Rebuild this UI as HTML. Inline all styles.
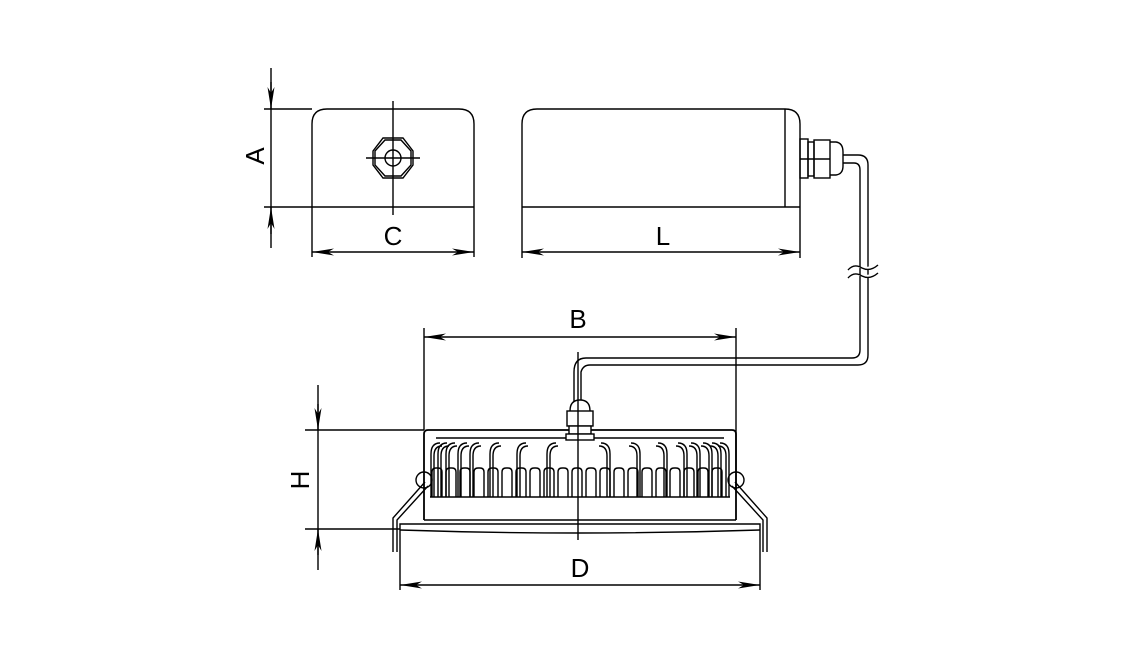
<!DOCTYPE html>
<html><head><meta charset="utf-8"><style>
html,body{margin:0;padding:0;background:#fff;}
svg{display:block}
text{font-family:"Liberation Sans",sans-serif;font-size:26px;fill:#000}
</style></head><body>
<svg width="1133" height="666" viewBox="0 0 1133 666" xmlns="http://www.w3.org/2000/svg">
<defs>
<marker id="ar" viewBox="0 0 22 8" refX="22" refY="4" markerWidth="22" markerHeight="8" markerUnits="userSpaceOnUse" orient="auto-start-reverse"><path d="M0,0.5 L22,4 L0,7.5 L6,4 Z" fill="#000"/></marker>
<path id="sf" d="M0,497 L0,472 Q0,468 4,468 L6,468 Q10,468 10,472 L10,497"/>
<path id="tl" d="M0,497 L0,454 Q0,443 9,443 M3,497 L3,456 Q3,446 11,446"/>
<path id="tr" d="M0,497 L0,454 Q0,443 -9,443 M-3,497 L-3,456 Q-3,446 -11,446"/>
</defs>
<g fill="none" stroke="#000" stroke-width="1.4">
<!-- Left box -->
<path d="M312,208 L312,124 Q312,109 327,109 L459,109 Q474,109 474,124 L474,208"/>
<line x1="264" y1="109" x2="312" y2="109"/>
<line x1="264" y1="207" x2="474" y2="207"/>
<line x1="271" y1="68" x2="271" y2="248"/>
<line x1="271" y1="82" x2="271" y2="109" marker-end="url(#ar)"/>
<line x1="271" y1="234" x2="271" y2="207" marker-end="url(#ar)"/>
<line x1="393" y1="101" x2="393" y2="215"/>
<line x1="366" y1="158" x2="420" y2="158"/>
<polygon points="373,151 383,138 403,138 413,151 413,165 403,178 383,178 373,165"/>
<polygon points="375,151 385,140 401,140 411,151 411,165 401,176 385,176 375,165"/>
<circle cx="393" cy="158" r="8"/>
<line x1="312" y1="208" x2="312" y2="257"/>
<line x1="474" y1="208" x2="474" y2="257"/>
<line x1="312" y1="252" x2="474" y2="252" marker-start="url(#ar)" marker-end="url(#ar)"/>
<!-- Right box -->
<path d="M522,258 L522,124 Q522,109 537,109 L785,109 Q800,109 800,124 L800,258"/>
<line x1="785" y1="109" x2="785" y2="207"/>
<line x1="522" y1="207" x2="800" y2="207"/>
<line x1="522" y1="252" x2="800" y2="252" marker-start="url(#ar)" marker-end="url(#ar)"/>
<!-- gland -->
<rect x="800" y="139" width="8" height="39"/>
<rect x="808" y="142" width="6" height="34"/>
<rect x="814" y="140" width="16" height="38"/>
<line x1="800" y1="159" x2="830" y2="159"/>
<path d="M830,142 L836,142 Q843,143 843,152 L843,166 Q843,174 836,175 L830,175"/>
<!-- cable -->
<path d="M843,155 L858,155 Q868,155 868,165 L868,355 Q868,365 858,365 L590,365 Q583,365 581,372 L581,402"/>
<path d="M843,163 L854,163 Q860,163 860,170 L860,350 Q860,358 852,358 L586,358 Q574,358 574,372 L574,402"/>
<path d="M848,270 Q854,263 862,268 Q870,272 878,265" fill="#fff"/>
<path d="M848,278 Q854,271 862,276 Q870,280 878,273" fill="#fff"/>
<!-- B -->
<line x1="424" y1="328" x2="424" y2="430"/>
<line x1="736" y1="328" x2="736" y2="490"/>
<line x1="424" y1="337" x2="736" y2="337" marker-start="url(#ar)" marker-end="url(#ar)"/>
<!-- lamp -->
<path d="M424,520 L424,434 Q424,430 428,430 L732,430 Q736,430 736,434 L736,520" stroke-width="1.8"/>
<line x1="424" y1="520" x2="736" y2="520"/>
<path d="M400,530 L400,524 L760,524 L760,530"/>
<path d="M400,530 Q580,536 760,530"/>
<path d="M393,552 L393,518 L425,482"/>
<path d="M397,552 L397,520 L428,486"/>
<path d="M767,552 L767,518 L735,482"/>
<path d="M763,552 L763,520 L732,486"/>
<circle cx="424" cy="480" r="8"/>
<circle cx="736" cy="480" r="8"/>
<g>
<use href="#tl" x="431"/><use href="#tl" x="438"/><use href="#tl" x="446"/><use href="#tl" x="458"/><use href="#tl" x="470"/><use href="#tl" x="490"/><use href="#tl" x="517"/><use href="#tl" x="547"/>
<use href="#tr" x="610"/><use href="#tr" x="640"/><use href="#tr" x="667"/><use href="#tr" x="687"/><use href="#tr" x="700"/><use href="#tr" x="712"/><use href="#tr" x="721"/><use href="#tr" x="729"/>
<use href="#sf" x="432"/><use href="#sf" x="446"/><use href="#sf" x="460"/><use href="#sf" x="474"/><use href="#sf" x="488"/><use href="#sf" x="502"/><use href="#sf" x="516"/><use href="#sf" x="530"/><use href="#sf" x="544"/><use href="#sf" x="558"/><use href="#sf" x="572"/><use href="#sf" x="586"/><use href="#sf" x="600"/><use href="#sf" x="614"/><use href="#sf" x="628"/><use href="#sf" x="642"/><use href="#sf" x="656"/><use href="#sf" x="670"/><use href="#sf" x="684"/><use href="#sf" x="698"/><use href="#sf" x="712"/>
<line x1="430" y1="497" x2="730" y2="497"/>
<line x1="436" y1="438" x2="724" y2="438"/>
</g>
<!-- gland lamp -->
<path d="M570,411 Q570,400 580,400 Q590,400 590,411" fill="#fff"/>
<rect x="567" y="411" width="26" height="15" fill="#fff"/>
<rect x="569" y="426" width="22" height="8" fill="#fff"/>
<rect x="566" y="434" width="28" height="6" fill="#fff"/>
<line x1="578" y1="352" x2="578" y2="540"/>
<!-- H -->
<line x1="305" y1="430" x2="424" y2="430"/>
<line x1="305" y1="529" x2="400" y2="529"/>
<line x1="318" y1="385" x2="318" y2="570"/>
<line x1="318" y1="404" x2="318" y2="430" marker-end="url(#ar)"/>
<line x1="318" y1="555" x2="318" y2="529" marker-end="url(#ar)"/>
<!-- D -->
<line x1="400" y1="530" x2="400" y2="590"/>
<line x1="760" y1="530" x2="760" y2="590"/>
<line x1="400" y1="585" x2="760" y2="585" marker-start="url(#ar)" marker-end="url(#ar)"/>
</g>
<text x="393" y="245" text-anchor="middle">C</text>
<text x="663" y="245" text-anchor="middle">L</text>
<text x="578" y="328" text-anchor="middle">B</text>
<text x="580" y="577" text-anchor="middle">D</text>
<text transform="translate(264,156) rotate(-90)" text-anchor="middle">A</text>
<text transform="translate(309,480) rotate(-90)" text-anchor="middle">H</text>
</svg>
</body></html>
